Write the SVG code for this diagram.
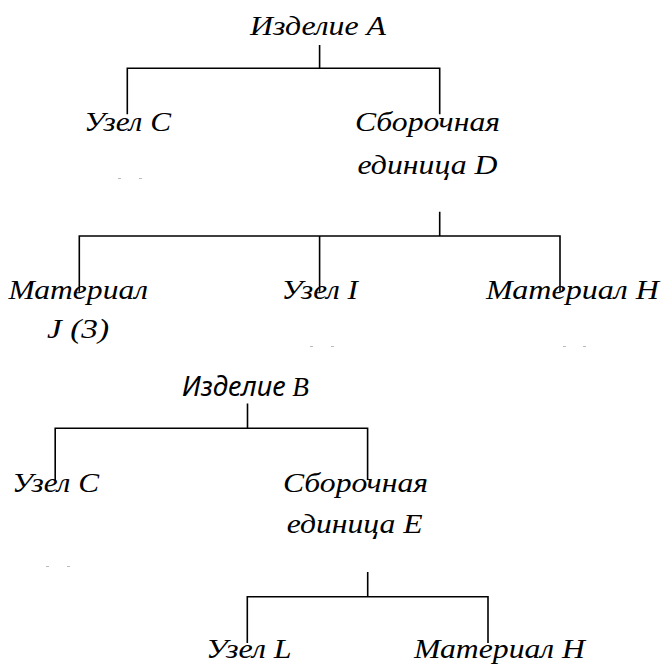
<svg xmlns="http://www.w3.org/2000/svg" width="661" height="666" viewBox="0 0 661 666">
<style>
.t{font-family:"Liberation Serif","Times New Roman",serif;font-style:italic;font-weight:normal;font-size:28px;fill:#000}
.c{stroke:#000;stroke-width:1.6;fill:none}
.d{stroke:#bbb;stroke-width:1;fill:none}
</style>
<rect width="661" height="666" fill="#fff"/>
<g id="connectors">
<path class="c" d="M319.6 45V68.3M127.3 114.3V68.3H439.7V114.3"/>
<path class="c" d="M439.7 211.7V236M79.3 291.7V236H560V291.7M319.6 236V291.7"/>
<path class="c" d="M247.5 403.5V428.3M55.2 480V428.3H367.6V480"/>
<path class="c" d="M367.7 572V596.7M247.3 643V596.7H488V643"/>
</g>
<g id="artifacts">
<path class="d" d="M118 178.5h3M139 178.5h3M310 346.5h3M331 346.5h3M563 346.5h3M583 346.5h3M46 566.5h3M67 566.5h3"/>
</g>
<g id="izdelie-a"><text class="t" x="250" y="34.5" textLength="136" lengthAdjust="spacingAndGlyphs">Изделие А</text></g>
<g id="uzel-c-a"><text class="t" x="84" y="130.7" textLength="87" lengthAdjust="spacingAndGlyphs">Узел С</text></g>
<g id="sborka-d">
<text class="t" x="355" y="130.7" textLength="145" lengthAdjust="spacingAndGlyphs">Сборочная</text>
<text class="t" x="357.5" y="174" textLength="140" lengthAdjust="spacingAndGlyphs">единица D</text>
</g>
<g id="material-j">
<text class="t" x="8.4" y="298.7" textLength="139.6" lengthAdjust="spacingAndGlyphs">Материал</text>
<text class="t" x="47" y="338" textLength="62" lengthAdjust="spacingAndGlyphs">J (3)</text>
</g>
<g id="uzel-i"><text class="t" x="281.6" y="298.7" textLength="76.4" lengthAdjust="spacingAndGlyphs">Узел I</text></g>
<g id="material-h-a"><text class="t" x="486" y="298.7" textLength="173" lengthAdjust="spacingAndGlyphs">Материал Н</text></g>
<g id="izdelie-b">
<text class="t" x="182" y="396" textLength="127" lengthAdjust="spacingAndGlyphs"><tspan font-family="Noto Sans, Open Sans, sans-serif">Изделие</tspan> B</text>
</g>
<g id="uzel-c-b"><text class="t" x="12" y="491.7" textLength="87" lengthAdjust="spacingAndGlyphs">Узел С</text></g>
<g id="sborka-e">
<text class="t" x="283" y="491.7" textLength="145" lengthAdjust="spacingAndGlyphs">Сборочная</text>
<text class="t" x="286.7" y="533" textLength="136" lengthAdjust="spacingAndGlyphs">единица Е</text>
</g>
<g id="uzel-l"><text class="t" x="206" y="658" textLength="85.7" lengthAdjust="spacingAndGlyphs">Узел L</text></g>
<g id="material-h-b"><text class="t" x="414" y="658" textLength="171" lengthAdjust="spacingAndGlyphs">Материал Н</text></g>
</svg>
